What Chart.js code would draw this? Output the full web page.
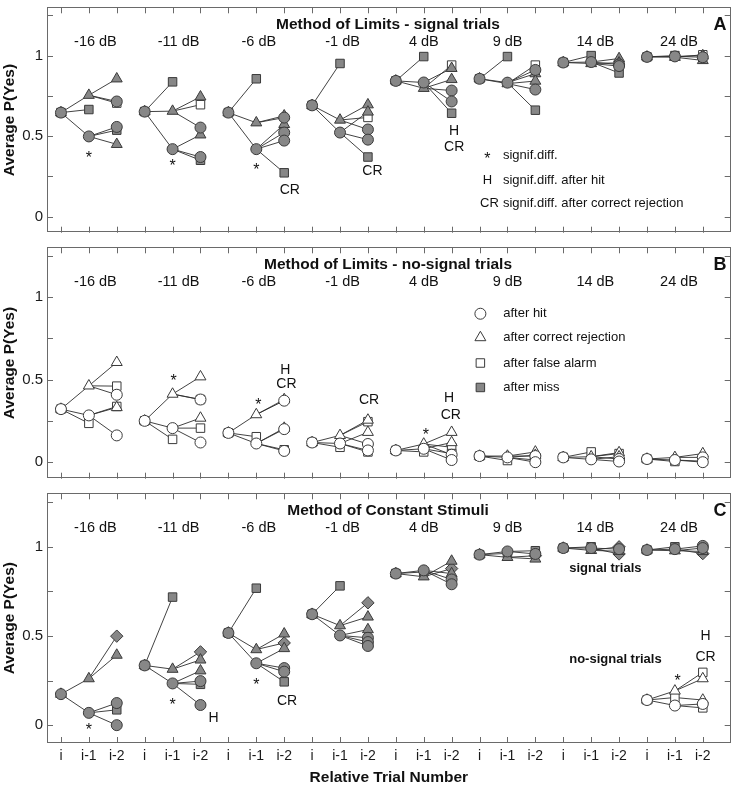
<!DOCTYPE html>
<html>
<head>
<meta charset="utf-8">
<script src="https://cdn.jsdelivr.net/npm/chart.js@4.4.0/dist/chart.umd.min.js"></script>
<style>
body { margin: 0; background: #fff; }
#wrap { position: relative; width: 738px; height: 785px; }
canvas { position: absolute; left: 0; }
</style>
</head>
<body>
<div id="wrap">
<canvas id="chartA" width="738" height="240" style="top:0"></canvas>
<canvas id="chartB" width="738" height="246" style="top:240px"></canvas>
<canvas id="chartC" width="738" height="299" style="top:486px"></canvas>
</div>
<script>
const FONT = '"Liberation Sans", Arial, sans-serif';

// categories / tick labels
const levels = ['-16 dB', '-11 dB', '-6 dB', '-1 dB', '4 dB', '9 dB', '14 dB', '24 dB'];
const lagLabels = ['i', 'i-1', 'i-2'];
const yTickValues = [0, 0.25, 0.5, 0.75, 1, 1.25];
const yTickLabels = ['0', '', '0.5', '', '1', ''];

// A: Method of Limits - signal trials
// P(yes) on trial i, per level
const limSigI = [0.646, 0.652, 0.646, 0.691, 0.843, 0.856, 0.957, 0.992];
// [level, outcome of trial i-1, P(yes)]
const limSigLag1 = [
    [0, 'cr', 0.754], [0, 'miss', 0.665], [0, 'hit', 0.498],
    [1, 'miss', 0.837], [1, 'cr', 0.655], [1, 'hit', 0.419],
    [2, 'miss', 0.856], [2, 'cr', 0.583], [2, 'hit', 0.419],
    [3, 'miss', 0.951], [3, 'cr', 0.600], [3, 'hit', 0.522],
    [4, 'miss', 0.994], [4, 'hit', 0.833], [4, 'cr', 0.797],
    [5, 'miss', 0.994], [5, 'hit', 0.832], [5, 'cr', 0.826],
    [6, 'miss', 1.0], [6, 'hit', 0.96], [6, 'cr', 0.951],
    [7, 'miss', 1.0], [7, 'hit', 0.995], [7, 'cr', 0.99]
];
// [level, outcome i-1, outcome i-2, P(yes)]
const limSigLag2 = [
    [0, 'cr', 'cr', 0.856], [0, 'cr', 'hit', 0.715], [0, 'cr', 'fa', 0.705], [0, 'hit', 'hit', 0.557], [0, 'hit', 'miss', 0.537], [0, 'hit', 'cr', 0.449],
    [1, 'cr', 'cr', 0.744], [1, 'cr', 'fa', 0.695], [1, 'cr', 'hit', 0.553], [1, 'hit', 'cr', 0.508], [1, 'hit', 'hit', 0.370], [1, 'hit', 'miss', 0.350],
    [2, 'cr', 'cr', 0.626], [2, 'cr', 'hit', 0.615], [2, 'hit', 'cr', 0.573], [2, 'hit', 'hit', 0.522], [2, 'hit', 'hit', 0.472], [2, 'hit', 'miss', 0.272],
    [3, 'cr', 'cr', 0.695], [3, 'hit', 'cr', 0.650], [3, 'cr', 'fa', 0.616], [3, 'cr', 'hit', 0.541], [3, 'hit', 'hit', 0.478], [3, 'hit', 'miss', 0.370],
    [4, 'cr', 'fa', 0.941], [4, 'hit', 'cr', 0.921], [4, 'cr', 'cr', 0.852], [4, 'cr', 'hit', 0.783], [4, 'hit', 'hit', 0.715], [4, 'hit', 'miss', 0.642],
    [5, 'cr', 'fa', 0.941], [5, 'hit', 'hit', 0.911], [5, 'hit', 'cr', 0.888], [5, 'cr', 'cr', 0.842], [5, 'cr', 'hit', 0.789], [5, 'hit', 'miss', 0.661],
    [6, 'hit', 'cr', 0.982], [6, 'cr', 'cr', 0.955], [6, 'hit', 'hit', 0.945], [6, 'cr', 'hit', 0.935], [6, 'hit', 'miss', 0.892],
    [7, 'cr', 'fa', 1.005], [7, 'hit', 'cr', 1.0], [7, 'hit', 'hit', 0.99], [7, 'cr', 'cr', 0.97]
];

// B: Method of Limits - no-signal trials
const limNoI = [0.321, 0.25, 0.177, 0.119, 0.071, 0.037, 0.029, 0.019];
const limNoLag1 = [
    [0, 'cr', 0.462], [0, 'hit', 0.283], [0, 'fa', 0.235],
    [1, 'cr', 0.412], [1, 'hit', 0.206], [1, 'fa', 0.138],
    [2, 'cr', 0.288], [2, 'fa', 0.154], [2, 'hit', 0.113],
    [3, 'cr', 0.162], [3, 'hit', 0.113], [3, 'fa', 0.090],
    [4, 'cr', 0.11], [4, 'hit', 0.081], [4, 'fa', 0.062],
    [5, 'cr', 0.037], [5, 'hit', 0.029], [5, 'fa', 0.01],
    [6, 'fa', 0.062], [6, 'cr', 0.033], [6, 'hit', 0.017],
    [7, 'cr', 0.029], [7, 'hit', 0.013], [7, 'fa', 0.004]
];
const limNoLag2 = [
    [0, 'cr', 'cr', 0.604], [0, 'cr', 'fa', 0.460], [0, 'cr', 'hit', 0.408], [0, 'hit', 'fa', 0.337], [0, 'hit', 'cr', 0.331], [0, 'hit', 'hit', 0.162],
    [1, 'cr', 'cr', 0.517], [1, 'cr', 'hit', 0.379], [1, 'cr', 'fa', 0.379], [1, 'hit', 'cr', 0.267], [1, 'hit', 'fa', 0.206], [1, 'hit', 'hit', 0.119],
    [2, 'cr', 'cr', 0.379], [2, 'cr', 'hit', 0.372], [2, 'hit', 'cr', 0.206], [2, 'hit', 'hit', 0.2], [2, 'hit', 'fa', 0.075], [2, 'hit', 'hit', 0.068],
    [3, 'cr', 'cr', 0.255], [3, 'cr', 'fa', 0.245], [3, 'hit', 'cr', 0.181], [3, 'cr', 'hit', 0.11], [3, 'hit', 'fa', 0.062], [3, 'hit', 'hit', 0.071],
    [4, 'cr', 'cr', 0.181], [4, 'hit', 'cr', 0.119], [4, 'cr', 'fa', 0.09], [4, 'hit', 'fa', 0.052], [4, 'cr', 'hit', 0.045], [4, 'hit', 'hit', 0.013],
    [5, 'cr', 'cr', 0.062], [5, 'hit', 'cr', 0.042], [5, 'cr', 'hit', 0.037], [5, 'hit', 'fa', 0.013], [5, 'hit', 'hit', 0.0],
    [6, 'cr', 'cr', 0.058], [6, 'cr', 'fa', 0.052], [6, 'hit', 'cr', 0.033], [6, 'cr', 'hit', 0.019], [6, 'hit', 'hit', 0.004],
    [7, 'cr', 'cr', 0.052], [7, 'cr', 'hit', 0.029], [7, 'hit', 'fa', 0.006], [7, 'hit', 'hit', 0.0]
];

// C: Method of Constant Stimuli - signal trials
const constSigI = [0.174, 0.335, 0.517, 0.622, 0.85, 0.956, 0.993, 0.982];
const constSigLag1 = [
    [0, 'cr', 0.261], [0, 'hit', 0.069],
    [1, 'miss', 0.718], [1, 'cr', 0.314], [1, 'hit', 0.234],
    [2, 'miss', 0.768], [2, 'cr', 0.424], [2, 'hit', 0.347],
    [3, 'miss', 0.781], [3, 'cr', 0.558], [3, 'hit', 0.503],
    [4, 'hit', 0.868], [4, 'miss', 0.859], [4, 'cr', 0.832],
    [5, 'hit', 0.974], [5, 'miss', 0.963], [5, 'cr', 0.941],
    [6, 'miss', 1.0], [6, 'hit', 0.993], [6, 'cr', 0.98],
    [7, 'miss', 1.0], [7, 'hit', 0.987], [7, 'cr', 0.978]
];
const constSigLag2 = [
    [0, 'cr', 'dia', 0.499], [0, 'cr', 'cr', 0.393], [0, 'hit', 'hit', 0.124], [0, 'hit', 'miss', 0.086], [0, 'hit', 'hit', 0.0],
    [1, 'cr', 'dia', 0.411], [1, 'cr', 'cr', 0.366], [1, 'hit', 'cr', 0.305], [1, 'hit', 'hit', 0.247], [1, 'hit', 'miss', 0.229], [1, 'hit', 'hit', 0.113],
    [2, 'cr', 'cr', 0.512], [2, 'cr', 'dia', 0.461], [2, 'hit', 'cr', 0.43], [2, 'hit', 'hit', 0.32], [2, 'hit', 'hit', 0.30], [2, 'hit', 'miss', 0.243],
    [3, 'cr', 'dia', 0.686], [3, 'cr', 'cr', 0.607], [3, 'hit', 'cr', 0.536], [3, 'hit', 'hit', 0.49], [3, 'hit', 'hit', 0.466], [3, 'hit', 'hit', 0.444],
    [4, 'cr', 'cr', 0.92], [4, 'cr', 'dia', 0.878], [4, 'hit', 'cr', 0.85], [4, 'hit', 'hit', 0.817], [4, 'hit', 'hit', 0.79],
    [5, 'hit', 'miss', 0.978], [5, 'hit', 'hit', 0.96], [5, 'cr', 'dia', 0.95], [5, 'cr', 'cr', 0.932],
    [6, 'cr', 'dia', 1.0], [6, 'hit', 'hit', 0.987], [6, 'cr', 'cr', 0.975], [6, 'hit', 'dia', 0.96],
    [7, 'hit', 'hit', 1.005], [7, 'cr', 'hit', 0.993], [7, 'cr', 'cr', 0.974], [7, 'hit', 'dia', 0.962]
];

// C: Method of Constant Stimuli - no-signal trials (24 dB only)
const constNoI = [null, null, null, null, null, null, null, 0.141];
const constNoLag1 = [[7, 'cr', 0.192], [7, 'fa', 0.155], [7, 'hit', 0.11]];
const constNoLag2 = [[7, 'cr', 'fa', 0.296], [7, 'cr', 'cr', 0.261], [7, 'fa', 'cr', 0.141], [7, 'hit', 'hit', 0.119], [7, 'hit', 'fa', 0.097]];

// marker looks
const GRAY = '#878787';
const EDGE = '#3a3a3a';
const shapes = { hit: ['circle', 5.5], cr: ['triangle', 6.3], fa: ['rect', 6], miss: ['rect', 6], dia: ['rectRot', 6.2] };
const filledLook = { hit: GRAY, cr: GRAY, fa: '#fff', miss: GRAY, dia: GRAY };
const openLook = { hit: '#fff', cr: '#fff', fa: '#fff', miss: GRAY, dia: '#fff' };
const drawOrder = ['hit', 'cr', 'fa', 'miss', 'dia'];

function buildDatasets(iVals, lag1, lag2, look)
{
    const segs = [];
    const pts = {};
    const add = (key, x, y) => { (pts[key] = pts[key] || []).push({ x: x, y: y }); };

    lag1.forEach(([lv, key, val]) =>
    {
        const x0 = lv * 3;
        segs.push({ x: x0, y: iVals[lv] }, { x: x0 + 1, y: val }, { x: x0 + 1, y: null });
        add(key, x0, iVals[lv]);
        add(key, x0 + 1, val);
    });
    lag2.forEach(([lv, parent, key, val]) =>
    {
        const x0 = lv * 3;
        const p = lag1.find(r => r[0] === lv && r[1] === parent);
        segs.push({ x: x0 + 1, y: p[2] }, { x: x0 + 2, y: val }, { x: x0 + 2, y: null });
        add(key, x0 + 2, val);
    });

    const sets = [];
    drawOrder.forEach(key =>
    {
        if (!pts[key]) return;
        sets.push({
            data: pts[key],
            pointStyle: shapes[key][0],
            pointRadius: shapes[key][1],
            pointBackgroundColor: look[key],
            pointBorderColor: EDGE,
            pointBorderWidth: 1,
            showLine: false,
            order: 1
        });
    });
    sets.push({
        data: segs,
        showLine: true,
        spanGaps: false,
        borderColor: '#2e2e2e',
        borderWidth: 0.9,
        pointRadius: 0,
        order: 5
    });
    return sets;
}

function markerAt(ctx, key, look, x, y)
{
    ctx.save();
    ctx.fillStyle = look[key];
    ctx.strokeStyle = EDGE;
    ctx.lineWidth = 1;
    Chart.helpers.drawPoint(ctx, { pointStyle: shapes[key][0], radius: shapes[key][1], borderWidth: 1, rotation: 0 }, x, y);
    ctx.restore();
}

// frame, inward ticks, texts
function decorPlugin(cfg)
{
    return {
        id: 'decor',
        beforeDatasetsDraw(chart)
        {
            const { ctx, chartArea: a, scales: { x, y } } = chart;
            ctx.save();
            ctx.strokeStyle = '#6a6a6a';
            ctx.lineWidth = 1;
            ctx.strokeRect(Math.round(a.left) + 0.5, Math.round(a.top) + 0.5, Math.round(a.right - a.left) - 1, Math.round(a.bottom - a.top) - 1);
            ctx.beginPath();
            for (let k = 0; k < levels.length * 3; k++)
            {
                const px = Math.round(x.getPixelForValue(k)) + 0.5;
                ctx.moveTo(px, a.top); ctx.lineTo(px, a.top + 6);
                ctx.moveTo(px, a.bottom); ctx.lineTo(px, a.bottom - 6);
            }
            yTickValues.forEach(v =>
            {
                const py = Math.round(y.getPixelForValue(v)) + 0.5;
                ctx.moveTo(a.left, py); ctx.lineTo(a.left + 6, py);
                ctx.moveTo(a.right, py); ctx.lineTo(a.right - 6, py);
            });
            ctx.stroke();
            ctx.restore();
        },
        afterDraw(chart)
        {
            const { ctx, chartArea: a, scales: { x, y } } = chart;
            ctx.save();
            ctx.fillStyle = '#111';
            ctx.textBaseline = 'middle';

            ctx.font = 'bold 15.5px ' + FONT;
            ctx.textAlign = 'center';
            ctx.fillText(cfg.title, 388, a.top + 17.5);
            ctx.font = 'bold 18px ' + FONT;
            ctx.fillText(cfg.letter, 720, a.top + 17.5);

            ctx.font = '14.5px ' + FONT;
            ctx.textAlign = 'left';
            levels.forEach((lab, g) => ctx.fillText(lab, x.getPixelForValue(g * 3 + 0.47), a.top + 35));

            cfg.notes.forEach(([text, xv, yv, align, font]) =>
            {
                const f = font || (text === '*' ? '16px ' : '14px ') + FONT;
                ctx.font = f;
                ctx.textAlign = align || 'center';
                const shift = text === '*' ? 4 : 0;
                ctx.fillText(text, x.getPixelForValue(xv), y.getPixelForValue(yv) + shift);
            });

            (cfg.keyMarks || []).forEach(([key, xv, yv]) =>
                markerAt(ctx, key, cfg.look, x.getPixelForValue(xv), y.getPixelForValue(yv)));
            ctx.restore();
        }
    };
}

function makePanel(id, datasets, cfg)
{
    new Chart(document.getElementById(id), {
        type: 'scatter',
        data: { datasets: datasets },
        options: {
            responsive: false,
            animation: false,
            devicePixelRatio: 1,
            layout: { padding: cfg.padding },
            plugins: { legend: { display: false }, tooltip: { enabled: false } },
            scales: {
                x: {
                    type: 'linear', min: -0.5, max: 24,
                    afterBuildTicks: s => { s.ticks = levels.flatMap((_, g) => [0, 1, 2].map(k => ({ value: g * 3 + k }))); },
                    ticks: {
                        display: cfg.showX, autoSkip: false, maxRotation: 0, padding: 5, color: '#1a1a1a',
                        font: { family: FONT, size: 14 },
                        callback: v => lagLabels[v % 3]
                    },
                    grid: { display: false, drawTicks: false },
                    border: { display: false },
                    title: {
                        display: cfg.showX, text: 'Relative Trial Number', color: '#111',
                        font: { family: FONT, size: 15.5, weight: 'bold', lineHeight: 1 }, padding: { top: 0, bottom: 0 }
                    },
                    afterFit: s =>
                    {
                        s.height = cfg.showX ? 42 : 0;
                        s.paddingLeft = 0; s.paddingRight = 0;
                    }
                },
                y: {
                    type: 'linear', min: -0.1, max: 1.3,
                    afterBuildTicks: s => { s.ticks = yTickValues.map(v => ({ value: v })); },
                    ticks: {
                        padding: 4, color: '#1a1a1a', font: { family: FONT, size: 15 },
                        callback: v => { const i = yTickValues.indexOf(v); return i < 0 ? '' : yTickLabels[i]; }
                    },
                    grid: { display: false, drawTicks: false },
                    border: { display: false },
                    title: {
                        display: true, text: 'Average P(Yes)', color: '#111',
                        font: { family: FONT, size: 15.5, weight: 'bold' }, padding: { top: 0, bottom: 0 }
                    },
                    afterFit: s =>
                    {
                        s.width = 47;
                        s.paddingTop = 0; s.paddingBottom = 0;
                    }
                }
            }
        },
        plugins: [decorPlugin(cfg)]
    });
}

makePanel('chartA', buildDatasets(limSigI, limSigLag1, limSigLag2, filledLook), {
    title: 'Method of Limits - signal trials', letter: 'A', showX: false, look: filledLook,
    padding: { top: 1, bottom: 2, left: 0, right: 2 },
    notes: [
        ['*', 1, 0.384], ['*', 4, 0.335], ['*', 7, 0.311],
        ['CR', 8.2, 0.167], ['CR', 11.16, 0.282], ['H', 14.09, 0.532], ['CR', 14.09, 0.429],
        ['*', 15.28, 0.38], ['signif.diff.', 15.84, 0.378, 'left', '13px ' + FONT],
        ['H', 15.28, 0.223, 'center', '13px ' + FONT], ['signif.diff. after hit', 15.84, 0.223, 'left', '13px ' + FONT],
        ['CR', 15.02, 0.079, 'left', '13px ' + FONT], ['signif.diff. after correct rejection', 15.84, 0.079, 'left', '13px ' + FONT]
    ]
});

makePanel('chartB', buildDatasets(limNoI, limNoLag1, limNoLag2, openLook), {
    title: 'Method of Limits - no-signal trials', letter: 'B', showX: false, look: openLook,
    padding: { top: 2, bottom: 2, left: 0, right: 2 },
    notes: [
        ['*', 4.04, 0.514], ['*', 7.07, 0.365], ['H', 8.04, 0.558], ['CR', 8.08, 0.475],
        ['CR', 11.04, 0.375], ['*', 13.08, 0.183], ['H', 13.91, 0.385], ['CR', 13.97, 0.283],
        ['after hit', 15.85, 0.898, 'left', '13px ' + FONT],
        ['after correct rejection', 15.85, 0.754, 'left', '13px ' + FONT],
        ['after false alarm', 15.85, 0.6, 'left', '13px ' + FONT],
        ['after miss', 15.85, 0.452, 'left', '13px ' + FONT]
    ],
    keyMarks: [['hit', 15.03, 0.898], ['cr', 15.03, 0.754], ['fa', 15.03, 0.6], ['miss', 15.03, 0.452]]
});

makePanel('chartC',
    buildDatasets(constSigI, constSigLag1, constSigLag2, filledLook).concat(buildDatasets(constNoI, constNoLag1, constNoLag2, openLook)), {
    title: 'Method of Constant Stimuli', letter: 'C', showX: true, look: filledLook,
    padding: { top: 2, bottom: 0, left: 0, right: 2 },
    notes: [
        ['*', 1.0, -0.01], ['*', 4.0, 0.132], ['H', 5.47, 0.042], ['*', 7.0, 0.243], ['CR', 8.1, 0.137],
        ['signal trials', 19.51, 0.878, 'center', 'bold 13px ' + FONT],
        ['no-signal trials', 19.87, 0.369, 'center', 'bold 13px ' + FONT],
        ['*', 22.1, 0.269], ['H', 23.1, 0.5], ['CR', 23.1, 0.384]
    ]
});
</script>
</body>
</html>
